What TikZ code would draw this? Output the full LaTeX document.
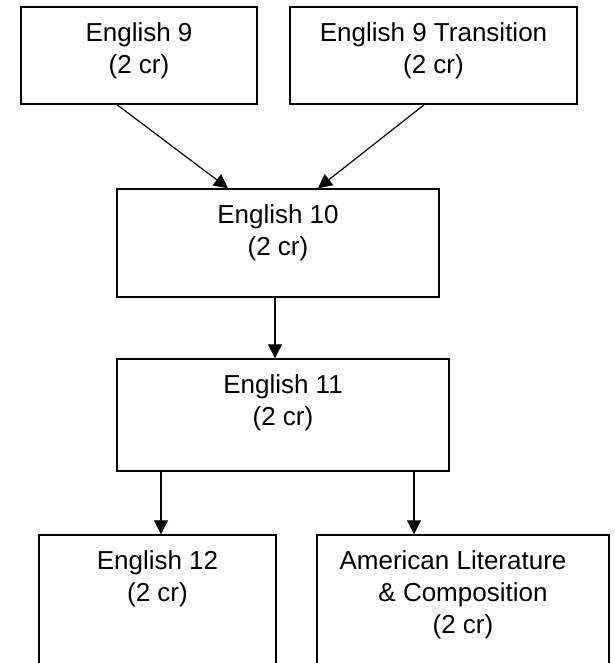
\documentclass[tikz,border=0pt]{standalone}
\usepackage{fontspec}
\setmainfont{Liberation Sans}
\usetikzlibrary{arrows.meta}

% box contents: text sits at the top of a fixed size box
\newcommand{\crsbox}[3]{\begin{minipage}[t][#2][t]{#1}\centering\rule{0pt}{26pt}#3\end{minipage}}

\begin{document}
\begin{tikzpicture}[x=0.75pt, y=-0.75pt,
    course/.style={draw, line width=1.1pt, inner sep=0pt, font=\fontsize{19.5}{24}\selectfont},
    flow/.style={-{Triangle[length=10.5pt, width=10.5pt]}, line width=0.9pt}]

    \useasboundingbox (0,0) rectangle (614,663);

    % Top row
    \node[course] (e9) at (139,55.5) {\crsbox{177pt}{72.75pt}{English 9\\(2 cr)}};
    \node[course] (e9t) at (433.5,55.5) {\crsbox{215.25pt}{72.75pt}{English 9 Transition\\(2 cr)}};

    % Middle boxes
    \node[course] (e10) at (278,243) {\crsbox{241.5pt}{81pt}{English 10\\(2 cr)}};
    \node[course] (e11) at (283,415) {\crsbox{249pt}{84pt}{English 11\\(2 cr)}};

    % Bottom row (runs off the page)
    \node[course] (e12) at (157.5,610) {\crsbox{177.75pt}{112.5pt}{English 12\\(2 cr)}};
    \node[course] (amlit) at (463,610) {\crsbox{219pt}{112.5pt}{American Literature\hbox to 15pt{}\\\& Composition\\(2 cr)}};

    % Arrows
    \draw[flow] ([xshift=-16.5pt]e9.south) -- ([xshift=-37.5pt]e10.north);
    \draw[flow] ([xshift=-7pt]e9t.south) -- ([xshift=30pt]e10.north);
    \draw[flow] ([xshift=-2.25pt]e10.south) -- ([xshift=-2.25pt]e10.south |- e11.north);
    \draw[flow] ([xshift=-91.5pt]e11.south) -- ([xshift=-91.5pt]e11.south |- e12.north);
    \draw[flow] ([xshift=98.25pt]e11.south) -- ([xshift=98.25pt]e11.south |- amlit.north);

\end{tikzpicture}
\end{document}
